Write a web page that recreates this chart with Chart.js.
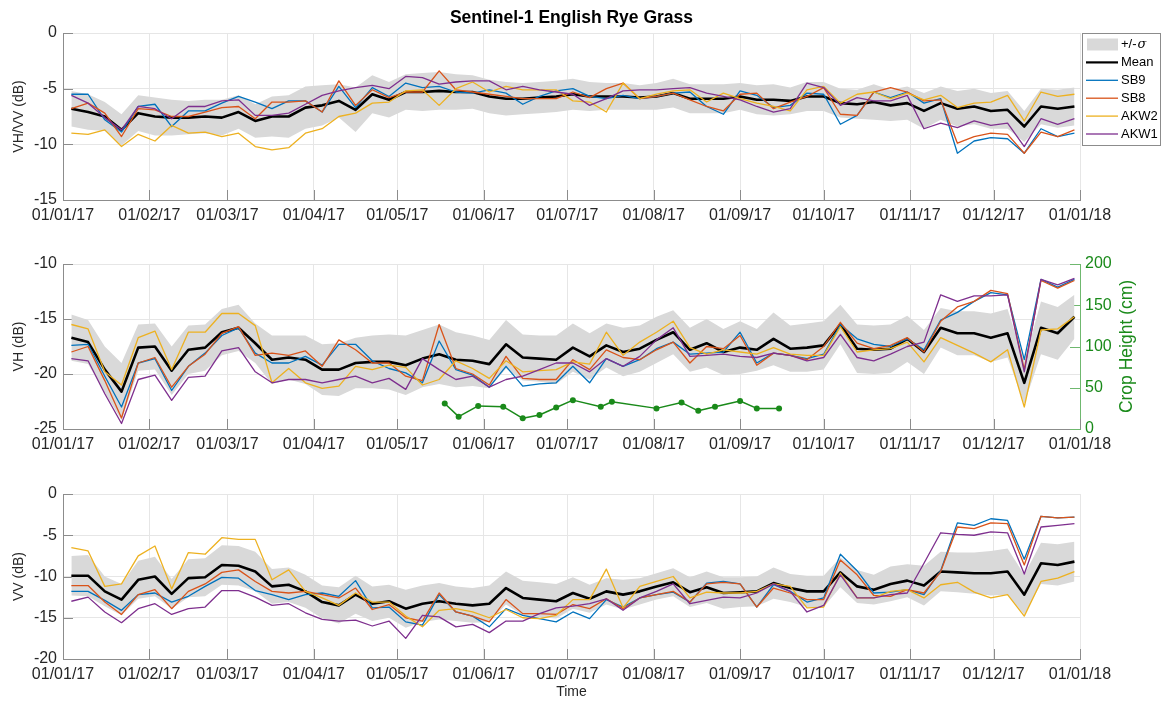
<!DOCTYPE html>
<html><head><meta charset="utf-8">
<script src="https://cdn.jsdelivr.net/npm/chart.js@4.4.1/dist/chart.umd.min.js"></script>
<style>
html,body{margin:0;padding:0;background:#fff;}
#wrap{position:relative;width:1161px;height:702px;overflow:hidden;background:#fff;}
canvas{position:absolute;left:0;}
</style></head><body>
<div id="wrap">
<canvas id="c1" width="1161" height="230" style="top:0px"></canvas>
<canvas id="c2" width="1161" height="230" style="top:230px"></canvas>
<canvas id="c3" width="1161" height="242" style="top:460px"></canvas>
</div>
<script>
// ---------- data ----------
const chartTitle = 'Sentinel-1 English Rye Grass';
const obsDates = [
 '2017-01-04','2017-01-10','2017-01-16','2017-01-22','2017-01-28','2017-02-03','2017-02-09','2017-02-15','2017-02-21','2017-02-27',
 '2017-03-05','2017-03-11','2017-03-17','2017-03-23','2017-03-29','2017-04-04','2017-04-10','2017-04-16','2017-04-22','2017-04-28',
 '2017-05-04','2017-05-10','2017-05-16','2017-05-22','2017-05-28','2017-06-03','2017-06-09','2017-06-15','2017-06-21','2017-06-27',
 '2017-07-03',
 '2017-07-09','2017-07-15','2017-07-21','2017-07-27','2017-08-02','2017-08-08','2017-08-14','2017-08-20','2017-08-26','2017-09-01',
 '2017-09-07','2017-09-13','2017-09-19','2017-09-25','2017-10-01','2017-10-07','2017-10-13','2017-10-19','2017-10-25','2017-10-31',
 '2017-11-06','2017-11-12','2017-11-18','2017-11-24','2017-11-30','2017-12-06','2017-12-12','2017-12-18','2017-12-24','2017-12-30'];
const tickDates = ['2017-01-01','2017-02-01','2017-03-01','2017-04-01','2017-05-01','2017-06-01','2017-07-01',
 '2017-08-01','2017-09-01','2017-10-01','2017-11-01','2017-12-01','2018-01-01'];
const tickLabels = ['01/01/17','01/02/17','01/03/17','01/04/17','01/05/17','01/06/17','01/07/17',
 '01/08/17','01/09/17','01/10/17','01/11/17','01/12/17','01/01/18'];
const seriesNames = ['Mean','SB9','SB8','AKW2','AKW1'];
const bandName = '+/-σ';

// VH/VV ratio (dB)
const ratioMean = [-6.8,-7.1,-7.5,-8.7,-7.2,-7.5,-7.6,-7.6,-7.5,-7.6, -7.1,-7.9,-7.5,-7.5,-6.7,-6.5,-6.1,-6.9,-5.5,-6.0, -5.3,-5.3,-5.2,-5.3,-5.3,-5.7,-5.9,-5.9,-5.8,-5.7, -5.5,
 -5.7,-5.7,-5.7,-5.8,-5.7,-5.4,-5.9,-5.9,-5.9,-5.7, -6.0,-6.0,-6.1,-5.7,-5.7,-6.3,-6.4,-6.2,-6.5,-6.3, -7.0,-6.3,-6.8,-6.6,-7.0,-6.9,-8.4,-6.6,-6.8,-6.6];
const ratioSigma = [1.6,1.6,1.3,1.4,1.6,1.7,1.6,1.5,1.5,1.6, 1.5,1.5,1.8,1.9,1.9,1.8,1.5,2.0,1.7,1.6, 1.6,1.7,1.7,1.6,1.5,1.5,1.5,1.4,1.4,1.4, 1.4,
 1.3,1.2,1.2,1.1,1.2,1.3,1.3,1.3,1.3,1.2, 1.3,1.4,1.2,1.3,1.3,1.3,1.3,1.6,1.4,1.5, 1.6,1.5,1.6,1.6,1.6,1.7,1.4,1.6,1.7,1.7];
const ratioSB9 = [-5.5,-5.5,-7.8,-8.9,-6.6,-6.4,-8.4,-7.0,-7.0,-6.3, -5.7,-6.2,-6.8,-6.1,-6.1,-7.1,-4.8,-6.7,-4.9,-5.7, -4.5,-4.9,-4.8,-5.3,-5.4,-5.1,-5.4,-6.4,-5.7,-5.2, -5.0,
 -5.7,-5.9,-5.6,-5.9,-5.7,-5.4,-5.3,-6.6,-7.3,-5.2, -5.6,-6.7,-6.5,-5.4,-5.5,-8.2,-7.4,-5.3,-5.8,-5.3, -6.3,-5.9,-10.8,-9.7,-9.4,-9.5,-10.8,-8.6,-9.3,-9.0];
const ratioSB8 = [-6.8,-6.3,-7.2,-9.3,-6.8,-6.9,-7.5,-7.5,-7.1,-6.7, -6.6,-7.7,-6.2,-6.2,-6.1,-7.1,-4.3,-6.5,-5.1,-5.8, -5.3,-5.3,-3.4,-5.1,-5.3,-5.5,-5.7,-5.9,-5.9,-5.9, -5.3,
 -5.8,-5.0,-4.5,-5.9,-5.7,-5.4,-6.0,-6.6,-7.0,-5.5, -5.4,-6.8,-6.2,-5.7,-4.9,-7.3,-7.4,-5.3,-4.9,-5.3, -6.1,-6.0,-9.9,-9.3,-9.0,-9.1,-10.8,-8.9,-9.3,-8.7];
const ratioAKW2 = [-9.0,-9.1,-8.7,-10.2,-9.1,-9.7,-8.3,-9.0,-8.9,-9.3, -9.0,-10.2,-10.5,-10.3,-9.0,-8.6,-7.5,-7.2,-6.3,-6.2, -5.2,-5.1,-6.5,-5.0,-4.4,-5.3,-4.8,-5.1,-5.1,-5.1, -6.1,
 -6.2,-7.1,-4.5,-5.9,-5.5,-5.2,-5.1,-6.2,-5.4,-5.9, -6.3,-6.6,-7.0,-5.1,-4.8,-6.3,-5.5,-5.3,-5.9,-5.4, -6.0,-5.6,-6.7,-6.3,-6.2,-5.6,-7.9,-5.3,-5.7,-5.5];
const ratioAKW1 = [-5.6,-6.3,-7.6,-8.7,-6.6,-6.8,-7.7,-6.6,-6.6,-6.1, -6.0,-7.4,-7.4,-7.2,-6.4,-5.6,-5.2,-4.9,-4.7,-5.0, -3.9,-4.0,-4.6,-4.4,-4.3,-4.3,-5.1,-4.8,-5.1,-5.3, -5.5,
 -6.5,-5.9,-5.2,-5.1,-5.1,-5.0,-4.9,-5.4,-5.7,-6.0, -6.6,-7.1,-6.8,-4.5,-4.9,-6.5,-5.8,-6.1,-6.1,-5.6, -8.6,-8.1,-8.5,-7.9,-8.3,-8.1,-10.2,-7.7,-8.2,-7.7];

// VH (dB)
const vhMean = [-16.7,-17.1,-19.6,-21.6,-17.6,-17.5,-19.7,-17.8,-17.6,-16.2, -15.8,-17.2,-18.7,-18.5,-18.7,-19.6,-19.6,-19.0,-18.9,-18.9, -19.2,-18.6,-18.2,-18.7,-18.8,-19.1,-17.3,-18.5,-18.6,-18.7, -17.6,
 -18.4,-17.4,-18.0,-17.7,-16.9,-16.2,-17.8,-17.2,-18.0,-17.6, -17.8,-16.8,-17.7,-17.6,-17.4,-15.5,-17.7,-17.8,-17.7,-16.8, -18.0,-15.8,-16.3,-16.3,-16.7,-16.3,-20.8,-15.8,-16.3,-14.8];
const vhSigma = [2.1,2.0,2.1,2.6,2.1,2.1,2.2,2.2,2.1,2.1, 2.1,1.8,2.2,2.0,2.2,2.3,2.4,2.3,2.4,2.5, 2.7,2.6,2.7,2.5,2.3,2.2,2.2,2.1,2.1,2.2, 2.2,
 2.1,2.0,2.2,2.1,2.1,2.0,2.0,2.2,2.1,2.4, 1.9,2.4,2.1,2.2,2.2,1.8,2.2,2.2,2.2,2.1, 2.0,1.8,2.0,2.0,2.2,2.2,1.9,2.4,2.4,2.0];
const vhSB9 = [-17.4,-17.3,-20.2,-23.0,-19.0,-18.6,-21.5,-19.3,-18.1,-16.5, -15.8,-18.1,-19.0,-19.0,-18.4,-19.2,-17.3,-17.3,-18.8,-19.5, -19.9,-20.8,-17.0,-19.6,-20.1,-21.2,-19.3,-21.1,-20.9,-20.8, -19.3,
 -20.8,-18.6,-19.3,-18.7,-17.7,-17.1,-18.2,-18.1,-18.0,-16.2, -19.0,-18.1,-18.3,-18.6,-18.2,-15.5,-16.8,-17.3,-17.5,-16.8, -17.8,-15.1,-14.4,-13.4,-12.6,-12.8,-18.7,-11.4,-12.1,-11.4];
const vhSB8 = [-18.0,-17.5,-20.6,-24.0,-19.0,-18.5,-21.2,-19.3,-18.2,-16.3, -15.7,-18.3,-18.1,-18.3,-17.9,-19.3,-16.9,-17.8,-19.0,-19.0, -20.2,-20.6,-15.5,-19.5,-20.0,-21.0,-18.4,-20.4,-20.5,-20.5, -18.7,
 -19.6,-17.8,-18.5,-18.7,-17.8,-17.1,-19.0,-17.5,-17.7,-16.5, -19.2,-18.1,-18.3,-18.7,-17.5,-15.3,-17.2,-17.7,-17.4,-16.7, -18.0,-15.2,-13.9,-13.4,-12.4,-12.7,-19.6,-11.5,-12.2,-11.5];
const vhAKW2 = [-15.5,-15.9,-19.8,-21.0,-16.7,-16.1,-19.6,-16.2,-16.2,-14.5, -14.5,-15.6,-20.8,-19.5,-20.8,-21.3,-21.1,-19.3,-19.6,-19.2, -19.4,-21.0,-20.5,-18.8,-19.5,-20.4,-18.8,-19.8,-19.7,-19.6, -18.9,
 -19.1,-16.2,-18.3,-17.1,-16.2,-15.2,-17.6,-18.2,-17.8,-18.0, -18.2,-17.6,-18.2,-18.3,-18.3,-15.7,-18.0,-17.8,-17.7,-17.1, -18.9,-16.7,-17.4,-18.1,-18.9,-17.8,-23.0,-16.0,-15.9,-14.8];
const vhAKW1 = [-18.6,-18.8,-21.8,-24.5,-20.5,-20.1,-22.4,-20.3,-20.2,-17.9, -17.6,-19.8,-20.8,-20.5,-20.5,-20.8,-20.5,-20.2,-20.8,-20.4, -21.4,-18.6,-19.6,-20.5,-20.2,-21.2,-20.5,-20.2,-19.6,-19.0, -19.0,
 -19.8,-18.6,-19.3,-18.4,-16.9,-15.8,-18.4,-18.3,-18.2,-18.4, -18.5,-18.1,-18.3,-18.8,-18.5,-16.4,-18.5,-18.8,-18.2,-17.5, -17.1,-12.8,-13.4,-12.9,-12.9,-12.8,-19.8,-11.4,-11.9,-11.3];

// Crop height (cm)
const cropDates = ['2017-05-18','2017-05-23','2017-05-30','2017-06-08','2017-06-15','2017-06-21','2017-06-27','2017-07-03',
 '2017-07-13','2017-07-17','2017-08-02','2017-08-11','2017-08-17','2017-08-23','2017-09-01','2017-09-07','2017-09-15'];
const cropHeight = [31,15,28,27,13,17,26,35,27,33,25,32,22,27,34,25,25];

// VV (dB)
const vvMean = [-9.9,-9.9,-11.8,-12.8,-10.4,-10.0,-12.1,-10.2,-10.1,-8.6, -8.7,-9.4,-11.2,-11.0,-11.8,-13.1,-13.5,-12.2,-13.3,-13.0, -13.9,-13.3,-13.0,-13.3,-13.5,-13.3,-11.4,-12.6,-12.8,-13.0, -12.0,
 -12.7,-11.8,-12.2,-11.8,-11.2,-10.7,-11.9,-11.3,-12.0,-11.9, -11.8,-10.8,-11.4,-11.8,-11.8,-9.5,-11.2,-11.6,-10.9,-10.5, -11.1,-9.4,-9.5,-9.6,-9.6,-9.4,-12.2,-8.4,-8.6,-8.2];
const vvSigma = [2.4,2.5,1.8,1.9,2.3,2.4,1.8,2.3,2.3,2.4, 2.4,2.4,2.1,2.1,2.0,2.0,2.2,2.3,2.1,2.0, 2.3,2.2,2.2,2.1,2.1,2.2,2.0,2.1,2.1,2.1, 1.9,
 1.7,1.6,1.8,1.6,1.6,1.7,1.8,1.9,1.9,1.8, 1.8,1.9,1.7,1.9,1.9,1.8,2.0,1.8,2.1,2.0, 2.4,2.4,2.4,2.5,2.7,2.8,2.4,2.5,2.5,2.4];
const vvSB9 = [-11.8,-11.8,-12.9,-14.1,-12.2,-12.0,-13.1,-12.4,-11.2,-10.1, -10.2,-11.7,-12.2,-12.8,-12.2,-12.0,-12.4,-10.5,-13.8,-13.7, -15.5,-15.9,-12.2,-14.3,-14.8,-16.1,-13.9,-14.7,-15.1,-15.5, -14.3,
 -15.1,-12.8,-13.7,-12.6,-12.2,-11.9,-13.1,-10.8,-10.6,-10.9, -13.7,-11.0,-11.8,-13.1,-12.6,-7.3,-9.3,-12.0,-11.9,-11.6, -12.2,-9.3,-3.5,-3.8,-3.0,-3.2,-7.9,-2.7,-2.9,-2.8];
const vvSB8 = [-11.1,-11.1,-13.1,-14.6,-12.2,-11.6,-13.9,-11.8,-10.9,-9.5, -9.2,-10.6,-11.8,-12.0,-11.8,-12.2,-12.6,-11.4,-14.0,-13.4, -15.0,-15.4,-12.0,-14.3,-14.8,-15.5,-12.8,-14.5,-14.5,-14.6, -13.4,
 -13.9,-12.7,-13.9,-12.6,-12.2,-11.8,-13.1,-10.9,-10.7,-10.9, -13.7,-11.4,-12.0,-12.8,-12.8,-8.0,-9.8,-12.3,-12.4,-11.6, -12.0,-9.4,-4.0,-4.2,-3.5,-3.6,-8.6,-2.7,-2.9,-2.8];
const vvAKW2 = [-6.5,-6.9,-11.2,-10.9,-7.5,-6.3,-11.5,-7.1,-7.3,-5.3, -5.5,-5.5,-10.4,-9.2,-11.8,-12.6,-13.5,-12.0,-13.1,-13.1, -14.8,-16.1,-14.1,-13.9,-14.3,-15.0,-14.0,-15.0,-15.1,-14.7, -12.8,
 -12.8,-9.1,-13.8,-11.2,-10.6,-10.0,-12.6,-11.9,-12.0,-12.0, -11.8,-10.9,-11.2,-13.8,-13.7,-9.6,-12.6,-12.6,-11.8,-11.6, -12.6,-11.0,-10.7,-11.9,-12.6,-12.2,-14.8,-10.6,-10.2,-9.4];
const vvAKW1 = [-13.0,-12.5,-14.3,-15.6,-13.9,-13.3,-14.6,-13.9,-13.7,-11.7, -11.7,-12.5,-13.5,-13.3,-14.4,-15.2,-15.4,-15.3,-16.0,-15.4, -17.5,-14.7,-14.9,-16.1,-15.8,-16.8,-15.4,-15.4,-14.5,-13.8, -13.6,
 -13.3,-12.7,-14.1,-12.6,-11.8,-10.9,-13.3,-12.9,-12.5,-12.6, -12.0,-10.9,-11.8,-14.3,-13.5,-9.8,-12.6,-12.6,-12.2,-12.0, -8.4,-4.7,-4.9,-5.0,-4.6,-4.7,-9.7,-4.0,-3.8,-3.6];

// ---------- styling ----------
const FONT = '"Liberation Sans", Arial, Helvetica, sans-serif';
Chart.defaults.font.family = FONT;
Chart.defaults.color = '#262626';
const AXIS = '#8c8c8c', GRID = '#e6e6e6', BAND = '#d9d9d9';
const COLORS = ['#000000', '#0072BD', '#D95319', '#EDB120', '#7E2F8E'];
const WIDTHS = [2.6, 1.3, 1.3, 1.3, 1.3];
const GREEN = '#1a8a1a';

const toDay = s => (Date.UTC(+s.slice(0,4), +s.slice(5,7)-1, +s.slice(8,10)) - Date.UTC(2017,0,1)) / 864e5;
const obsX = obsDates.map(toDay);
const tickX = tickDates.map(toDay);
const cropX = cropDates.map(toDay);
const pts = (xs, ys) => xs.map((x, i) => ({x: x, y: ys[i]}));

function xScale(height, withTitle) {
  return {
    type: 'linear', min: 0, max: 365,
    afterBuildTicks: s => { s.ticks = tickX.map(v => ({value: v})); },
    afterFit: s => { s.height = height; },
    ticks: {autoSkip: false, maxRotation: 0, minRotation: 0, padding: 6, font: {size: 16}, color: '#262626',
            callback: v => tickLabels[tickX.indexOf(v)]},
    grid: {color: GRID, drawTicks: false},
    border: {color: AXIS},
    title: {display: !!withTitle, text: 'Time', font: {size: 14}, color: '#262626', padding: {top: 0, bottom: 1}}
  };
}
function yScale(min, max, title) {
  return {
    type: 'linear', min: min, max: max, position: 'left',
    afterFit: s => { s.width = 63; },
    ticks: {stepSize: 5, padding: 6, font: {size: 16}, color: '#262626'},
    grid: {color: GRID, drawTicks: false},
    border: {color: AXIS},
    title: {display: true, text: title, font: {size: 14}, color: '#262626', padding: {top: 11, bottom: 0}}
  };
}
function seriesSets(mean, sigma, list) {
  const upper = mean.map((m, i) => m + sigma[i]);
  const lower = mean.map((m, i) => m - sigma[i]);
  const sets = [
    {label: 'upper', data: pts(obsX, upper), borderColor: 'rgba(0,0,0,0)', borderWidth: 1, pointRadius: 0, fill: false, order: 8},
    {label: bandName, data: pts(obsX, lower), borderColor: 'rgba(0,0,0,0)', borderWidth: 1, pointRadius: 0,
     fill: '-1', backgroundColor: BAND, order: 7}
  ];
  list.forEach((vals, k) => {
    sets.push({label: seriesNames[k], data: pts(obsX, vals), borderColor: COLORS[k], backgroundColor: COLORS[k],
      borderWidth: WIDTHS[k], pointRadius: 0, fill: false, tension: 0, order: 6 - k});
  });
  return sets;
}

const inwardTicks = {
  id: 'inwardTicks',
  beforeDatasetsDraw(chart) {
    const {ctx, chartArea: a, scales} = chart;
    ctx.save();
    ctx.lineWidth = 1;
    ctx.strokeStyle = AXIS;
    ctx.beginPath();
    scales.x.ticks.forEach(t => {
      const px = Math.round(scales.x.getPixelForValue(t.value)) + 0.5;
      ctx.moveTo(px, a.bottom); ctx.lineTo(px, a.bottom - 10);
    });
    scales.y.ticks.forEach(t => {
      const py = Math.round(scales.y.getPixelForValue(t.value)) + 0.5;
      ctx.moveTo(a.left, py); ctx.lineTo(a.left + 10, py);
    });
    ctx.stroke();
    if (scales.y1) {
      ctx.strokeStyle = '#6fb86f';
      ctx.beginPath();
      scales.y1.ticks.forEach(t => {
        const py = Math.round(scales.y1.getPixelForValue(t.value)) + 0.5;
        ctx.moveTo(a.right, py); ctx.lineTo(a.right - 10, py);
      });
      ctx.stroke();
    }
    ctx.restore();
  }
};

const titlePlugin = {
  id: 'mainTitle',
  afterDraw(chart) {
    const ctx = chart.ctx, a = chart.chartArea;
    ctx.save();
    ctx.font = 'bold 17.5px ' + FONT;
    ctx.fillStyle = '#000';
    ctx.textAlign = 'center'; ctx.textBaseline = 'middle';
    ctx.fillText(chartTitle, (a.left + a.right) / 2, 18);
    ctx.restore();
  }
};

const legendPlugin = {
  id: 'boxLegend',
  afterDraw(chart) {
    const ctx = chart.ctx;
    const x0 = 1082, y0 = 33, w = 78, h = 112;
    ctx.save();
    ctx.fillStyle = '#fff'; ctx.fillRect(x0, y0, w, h);
    ctx.strokeStyle = '#8c8c8c'; ctx.lineWidth = 1;
    ctx.strokeRect(x0 + 0.5, y0 + 0.5, w, h);
    const ds = chart.data.datasets;
    const items = ds.slice(1);
    ctx.font = '13px ' + FONT;
    ctx.textBaseline = 'middle'; ctx.textAlign = 'left';
    items.forEach((d, i) => {
      const y = y0 + 11.5 + i * 17.9;
      if (i === 0) {
        ctx.fillStyle = BAND; ctx.fillRect(x0 + 5, y - 6, 31, 12);
        ctx.fillStyle = '#000';
        const base = d.label.slice(0, -1), sig = d.label.slice(-1);
        ctx.font = '13px ' + FONT;
        ctx.fillText(base, x0 + 39, y);
        const bw = ctx.measureText(base).width;
        ctx.font = 'italic 13px "DejaVu Serif", serif';
        ctx.fillText(sig, x0 + 39 + bw + 1, y);
        ctx.font = '13px ' + FONT;
      } else {
        ctx.strokeStyle = d.borderColor; ctx.lineWidth = d.borderWidth > 2 ? 2.2 : 1.3;
        ctx.beginPath(); ctx.moveTo(x0 + 4, y); ctx.lineTo(x0 + 36, y); ctx.stroke();
        ctx.fillStyle = '#000';
        ctx.fillText(d.label, x0 + 39, y);
      }
    });
    ctx.restore();
  }
};

const cropTitle = {
  id: 'cropTitle',
  afterDraw(chart) {
    const ctx = chart.ctx, a = chart.chartArea;
    ctx.save();
    ctx.translate(1127, (a.top + a.bottom) / 2);
    ctx.rotate(-Math.PI / 2);
    ctx.font = '17.5px ' + FONT;
    ctx.fillStyle = GREEN;
    ctx.textAlign = 'center'; ctx.textBaseline = 'middle';
    ctx.fillText('Crop Height (cm)', 0, 0);
    ctx.restore();
  }
};

const common = {
  responsive: false, animation: false, devicePixelRatio: 1, events: [],
  plugins: {legend: {display: false}, tooltip: {enabled: false}, title: {display: false}},
  elements: {line: {tension: 0, borderJoinStyle: 'round'}, point: {radius: 0}}
};

// Panel 1: VH/VV
new Chart(document.getElementById('c1'), {
  type: 'line',
  data: {datasets: seriesSets(ratioMean, ratioSigma, [ratioMean, ratioSB9, ratioSB8, ratioAKW2, ratioAKW1])},
  options: Object.assign({}, common, {
    layout: {padding: {top: 33, right: 81, left: 0, bottom: 0}},
    scales: {x: xScale(30, false), y: yScale(-15, 0, 'VH/VV (dB)')}
  }),
  plugins: [inwardTicks, titlePlugin, legendPlugin]
});

// Panel 2: VH + crop height
const vhSets = seriesSets(vhMean, vhSigma, [vhMean, vhSB9, vhSB8, vhAKW2, vhAKW1]);
vhSets.push({label: 'Crop Height', data: pts(cropX, cropHeight), yAxisID: 'y1', borderColor: GREEN, backgroundColor: GREEN,
  borderWidth: 1.5, pointRadius: 3, pointBorderWidth: 0, fill: false, order: 0});
new Chart(document.getElementById('c2'), {
  type: 'line',
  data: {datasets: vhSets},
  options: Object.assign({}, common, {
    layout: {padding: {top: 34, right: 0, left: 0, bottom: 0}},
    scales: {
      x: xScale(31, false),
      y: yScale(-25, -10, 'VH (dB)'),
      y1: {type: 'linear', position: 'right', min: 0, max: 200,
        afterFit: s => { s.width = 81; },
        ticks: {stepSize: 50, padding: 5, font: {size: 16}, color: GREEN},
        grid: {drawOnChartArea: false, drawTicks: false},
        border: {color: '#6fb86f'},
        title: {display: false}}
    }
  }),
  plugins: [inwardTicks, cropTitle]
});

// Panel 3: VV
new Chart(document.getElementById('c3'), {
  type: 'line',
  data: {datasets: seriesSets(vvMean, vvSigma, [vvMean, vvSB9, vvSB8, vvAKW2, vvAKW1])},
  options: Object.assign({}, common, {
    layout: {padding: {top: 34, right: 81, left: 0, bottom: 0}},
    scales: {x: xScale(43, true), y: yScale(-20, 0, 'VV (dB)')}
  }),
  plugins: [inwardTicks]
});
</script>
</body></html>
